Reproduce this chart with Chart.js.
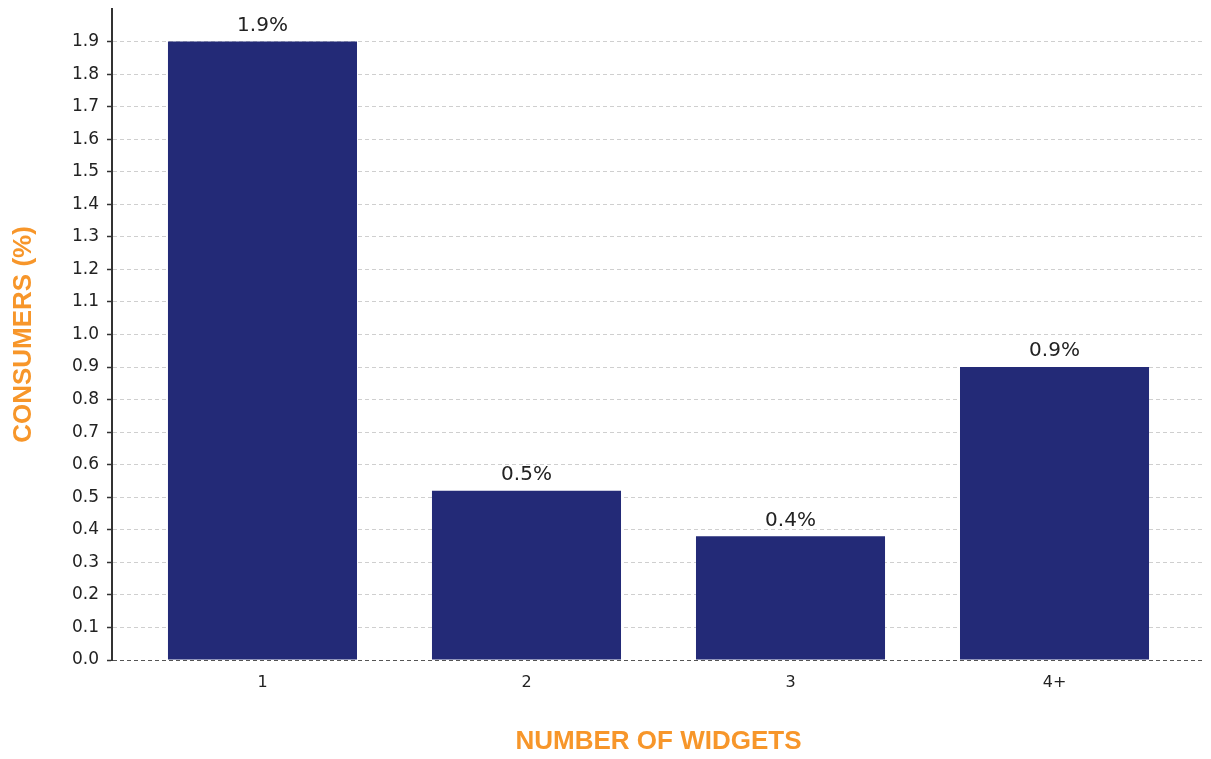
<!DOCTYPE html>
<html>
<head>
<meta charset="utf-8">
<script src="https://cdn.jsdelivr.net/npm/chart.js@4"></script>
<style>
  html, body { margin: 0; padding: 0; background: #fff; }
  #wrap { width: 1211px; height: 759px; }
</style>
</head>
<body>
<div id="wrap"><canvas id="chart-widgets"></canvas></div>
<script>
// データ
const categories = ['1', '2', '3', '4+'];
const consumers = [1.9, 0.52, 0.38, 0.9];
const valueLabels = ['1.9%', '0.5%', '0.4%', '0.9%'];

// バーの上に値ラベルを描く
const barLabelPlugin = {
    id: 'barLabels',
    afterDatasetsDraw(chart) {
        const ctx = chart.ctx;
        const meta = chart.getDatasetMeta(0);
        ctx.save();
        ctx.font = '20px "DejaVu Sans"';
        ctx.fillStyle = '#222';
        ctx.textAlign = 'center';
        ctx.textBaseline = 'bottom';
        meta.data.forEach(function (bar, i) {
            ctx.fillText(valueLabels[i], bar.x, bar.y - 6);
        });
        ctx.restore();
    }
};

var data = {
    datasets: [{
        data: consumers.map((v, i) => ({ x: i, y: v })),
        backgroundColor: '#232a77',
        borderWidth: 0,
        categoryPercentage: 1,
        barPercentage: 0.716,
    }]
};

var options = {
    animation: false,
    responsive: true,
    maintainAspectRatio: false,
    layout: {
        padding: { top: 9, right: 6, bottom: 0, left: 0 }
    },
    plugins: {
        legend: { display: false },
        tooltip: { enabled: false },
    },
    scales: {
        x: {
            type: 'linear',
            offset: false,
            min: -0.57,
            max: 3.57,
            afterBuildTicks: function (scale) {
                scale.ticks = categories.map((_, i) => ({ value: i }));
            },
            afterFit: function (scale) {
                scale.height = 99;
            },
            grid: { display: false, drawTicks: false },
            border: { display: false },
            ticks: {
                padding: 13,
                color: '#222',
                font: { family: 'DejaVu Sans', size: 16 },
                callback: function (value) {
                    return categories[value];
                }
            },
            title: {
                display: true,
                text: 'NUMBER OF WIDGETS',
                color: '#f7962a',
                font: { family: '"Liberation Sans"', size: 26, weight: 'bold' },
                padding: { top: 0, bottom: 2 }
            }
        },
        y: {
            min: 0,
            max: 2.0,
            afterBuildTicks: function (scale) {
                var t = [];
                for (var i = 0; i <= 19; i++) t.push({ value: i / 10 });
                scale.ticks = t;
            },
            afterFit: function (scale) {
                scale.width = 112;
                scale.paddingTop = 0;
                scale.paddingBottom = 0;
            },
            grid: {
                color: function (c) {
                    return c.tick && c.tick.value === 0 ? '#555' : '#cfcfcf';
                },
                lineWidth: 1,
                tickColor: '#333',
                tickLength: 5,
                tickWidth: 1.5,
                tickBorderDash: [],
            },
            border: {
                display: true,
                color: '#333',
                width: 2,
                dash: [4, 3],
            },
            ticks: {
                padding: 8,
                color: '#222',
                font: { family: 'DejaVu Sans', size: 17 },
                callback: function (value) {
                    return value.toFixed(1);
                }
            },
            title: {
                display: true,
                text: 'CONSUMERS (%)',
                color: '#f7962a',
                font: { family: '"Liberation Sans"', size: 26, weight: 'bold' },
                padding: { top: 8, bottom: 0 }
            }
        }
    }
};

var ctx = document.getElementById('chart-widgets').getContext('2d');
var chart = new Chart(ctx, {
    type: 'bar',
    data: data,
    options: options,
    plugins: [barLabelPlugin]
});
</script>
</body>
</html>
